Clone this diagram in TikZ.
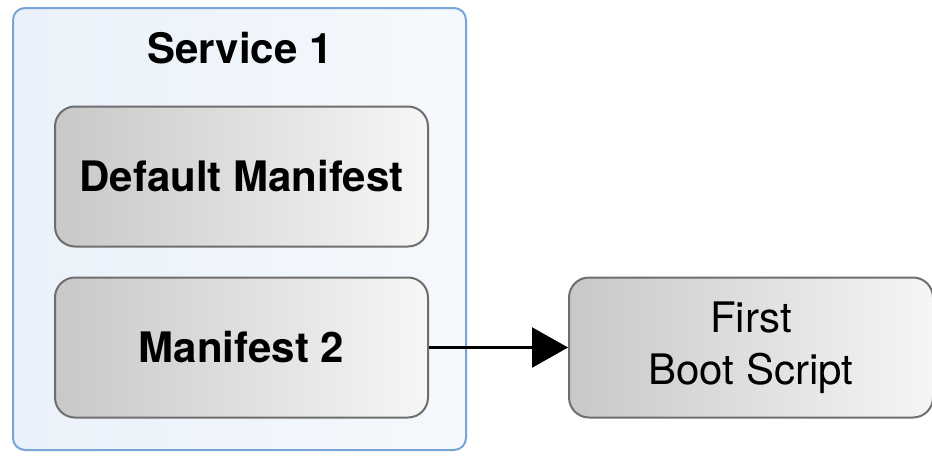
\documentclass[tikz,border=0pt]{standalone}
\usepackage{fontspec}
\setmainfont{TeX Gyre Heros}
\usetikzlibrary{arrows.meta,positioning}
\definecolor{svcblue}{RGB}{120,165,215}
\definecolor{svcfill}{RGB}{234,241,250}
\definecolor{boxgray}{RGB}{110,110,110}
\definecolor{shadedark}{RGB}{200,200,200}
\definecolor{shadelight}{RGB}{246,246,246}
\tikzset{
  servicebox/.style={
    rectangle, rounded corners=12pt, draw=svcblue, line width=2pt,
    left color=svcfill, right color=svcfill!45,
    minimum width=453pt, minimum height=442pt
  },
  manbox/.style={
    rectangle, rounded corners=20pt, draw=boxgray, line width=2pt,
    left color=shadedark, right color=shadelight,
    minimum width=373pt, minimum height=140pt, align=center,
    font=\fontsize{42}{52}\selectfont\bfseries
  },
  scriptbox/.style={
    manbox, minimum width=364pt, font=\fontsize{42}{52}\selectfont
  },
  flowarrow/.style={-{Triangle[length=36pt,width=40pt]}, line width=2.4pt, black}
}
\begin{document}
\begin{tikzpicture}[x=1pt, y=-1pt]
  \useasboundingbox (0,0) rectangle (932,458);

  % Service container
  \node[servicebox] (svc) at (239.5,229) {};
  \node[font=\fontsize{42}{52}\selectfont\bfseries] (svctitle) at (240,48) {Service 1};

  % Manifests
  \node[manbox] (dflt) at (241.5,176.5) {Default Manifest};
  \node[manbox, below=29pt of dflt] (man2) {Manifest 2};

  % Script
  \node[scriptbox, right=139pt of man2] (boot) {First\\Boot Script};

  % Arrow
  \draw[flowarrow] (man2.east) -- (boot.west);
\end{tikzpicture}
\end{document}
